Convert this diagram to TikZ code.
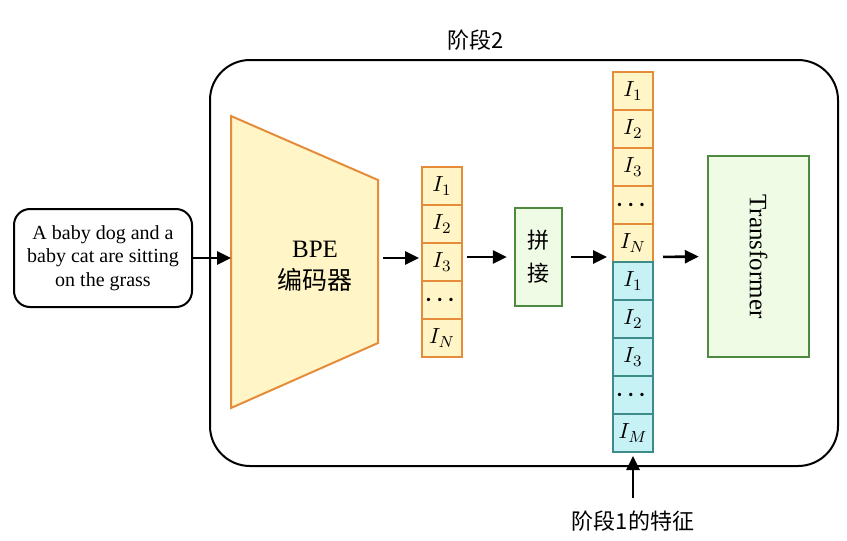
\documentclass[tikz,border=0pt]{standalone}
\usepackage{amsmath}
\usepackage{fontspec}
\setmainfont{Liberation Serif}
\newfontfamily\cjk{Noto Sans CJK SC}
\usetikzlibrary{arrows.meta, positioning}

\definecolor{tokorange}{HTML}{E58C3A}
\definecolor{tokyellow}{HTML}{FFF5C6}
\definecolor{tokteal}{HTML}{3D8C8A}
\definecolor{tokcyan}{HTML}{C6F1F5}
\definecolor{boxgreen}{HTML}{4E8A3F}
\definecolor{boxfill}{HTML}{F0FBE6}

\begin{document}
\begin{tikzpicture}[
        x=0.5pt, y=-0.5pt,
        tokA/.style={draw=tokorange, fill=tokyellow, line width=1pt, minimum width=20pt, minimum height=19pt, inner sep=0pt, outer sep=0pt, font=\fontsize{11}{12}\selectfont},
        tokB/.style={tokA, draw=tokteal, fill=tokcyan},
        greenbox/.style={draw=boxgreen, fill=boxfill, line width=1.2pt, inner sep=0pt},
        link/.style={-{Triangle[length=7pt, width=6.5pt]}, line width=1.3pt}
    ]
        \useasboundingbox (0,0) rectangle (847,541);

        % Khung giai doan 2
        \draw[line width=1pt, rounded corners=20pt] (210,60) rectangle (838,466);
        \node[font=\cjk\fontsize{11}{13}\selectfont] (stage) at (476,40) {阶段2};

        % Cau dau vao
        \node[draw, rounded corners=8pt, line width=1pt, minimum width=89pt, minimum height=49pt, align=center, font=\fontsize{10}{11.7}\selectfont] (txt) at (103,258) {A baby dog and a\\baby cat are sitting\\on the grass};

        % Bo ma hoa BPE
        \draw[draw=tokorange, fill=tokyellow, line width=1pt] (231,116) -- (378,180) -- (378,343) -- (231,408) -- cycle;
        \coordinate (encL) at (231,258);
        \coordinate (encR) at (378,258);
        \node[align=center, font=\fontsize{12.5}{16}\selectfont] (enc) at (315,266) {BPE\\{\cjk 编码器}};

        % Cot token 1
        \node[tokA] (a1) at (442,186) {$I_1$};
        \node[tokA, below=0pt of a1] (a2) {$I_2$};
        \node[tokA, below=0pt of a2] (a3) {$I_3$};
        \node[tokA, below=0pt of a3] (a4) {$\boldsymbol{\cdots}$};
        \node[tokA, below=0pt of a4] (a5) {$I_N$};

        % Ghep noi
        \node[greenbox, minimum width=23.5pt, minimum height=49pt, align=center, font=\cjk\fontsize{11}{16.5}\selectfont] (cat) at (538.5,257) {拼\\接};

        % Cot token 2
        \node[tokA] (b1) at (633,91) {$I_1$};
        \node[tokA, below=0pt of b1] (b2) {$I_2$};
        \node[tokA, below=0pt of b2] (b3) {$I_3$};
        \node[tokA, below=0pt of b3] (b4) {$\boldsymbol{\cdots}$};
        \node[tokA, below=0pt of b4] (b5) {$I_N$};
        \node[tokB, below=0pt of b5] (c1) {$I_1$};
        \node[tokB, below=0pt of c1] (c2) {$I_2$};
        \node[tokB, below=0pt of c2] (c3) {$I_3$};
        \node[tokB, below=0pt of c3] (c4) {$\boldsymbol{\cdots}$};
        \node[tokB, below=0pt of c4] (c5) {$I_M$};

        % Transformer
        \node[greenbox, minimum width=50.5pt, minimum height=100.5pt] (trf) at (758.5,256.5) {};
        \node[rotate=-90, font=\fontsize{12.5}{15}\selectfont] (trftext) at (trf.center) {Transformer};

        % Dac trung giai doan 1
        \node[font=\cjk\fontsize{11}{13}\selectfont] (feat) at (633,521) {阶段1的特征};

        % Cac mui ten
        \draw[link] (txt.east) -- (encL);
        \draw[link, shorten <=2.5pt, shorten >=1.5pt] (encR) -- (encR -| a3.west);
        \draw[link, shorten <=2.5pt, shorten >=3.5pt] (a3.east |- cat) -- (cat.west);
        \draw[link, shorten <=4pt, shorten >=3pt] (cat.east) -- (cat -| b5.west);
        \draw[link, shorten <=5pt, shorten >=4pt] (cat -| b5.east) -- (trf.west);
        \draw[link, shorten <=3pt, shorten >=2pt] (feat.north) -- (c5.south);
    \end{tikzpicture}
\end{document}
